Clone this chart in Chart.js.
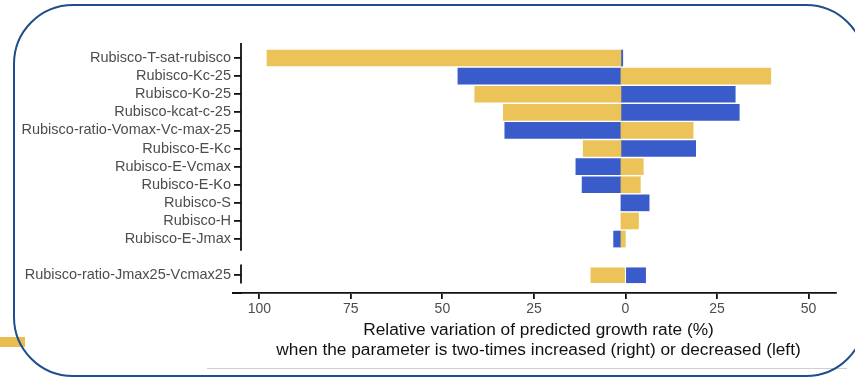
<!DOCTYPE html>
<html><head><meta charset="utf-8">
<script src="https://cdn.jsdelivr.net/npm/chart.js@4/dist/chart.umd.min.js"></script>
<style>
html,body{margin:0;padding:0;background:#fff;}
#wrap{position:relative;width:855px;height:378px;overflow:hidden;background:#fff;}
canvas{position:absolute;left:0;top:0;}
.frame{position:absolute;left:13px;top:4px;width:849px;height:369px;border:2px solid #1f4e8c;border-radius:60px;pointer-events:none;}
.strip{position:absolute;left:0;top:337px;width:25px;height:10px;background:#e9bd52;}
.rule{position:absolute;left:207px;top:368px;width:640px;height:1px;background:#cfcfcf;}
</style></head>
<body><div id="wrap"><div class="strip"></div><canvas id="c" width="855" height="378"></canvas><div class="rule"></div><div class="frame"></div></div>
<script>
// ---- data ----
const topCategories = [
  'Rubisco-T-sat-rubisco','Rubisco-Kc-25','Rubisco-Ko-25','Rubisco-kcat-c-25',
  'Rubisco-ratio-Vomax-Vc-max-25','Rubisco-E-Kc','Rubisco-E-Vcmax','Rubisco-E-Ko',
  'Rubisco-S','Rubisco-H','Rubisco-E-Jmax'
];
// signed values: negative = left (parameter decreased), positive = right (parameter increased)
const topYellow = [-96.6, 40.9, -39.9, -32.1, 19.7, -10.3, 6.1, 5.3, null, 4.8, 1.2];
const topBlue   = [0.5, -44.5, 31.2, 32.3, -31.7, 20.4, -12.3, -10.6, 7.7, null, -2.0];
const bottomCategory = 'Rubisco-ratio-Jmax25-Vcmax25';
const bottomYellow = [-9.45];
const bottomBlue = [5.5];
const xTickValues = [-100, -75, -50, -25, 0, 25, 50];
const gapRows = 1;

// ---- build ----
const bottomRow = topCategories.length + gapRows;
const rowLabels = {};
topCategories.forEach((c, i) => rowLabels[i] = c);
rowLabels[bottomRow] = bottomCategory;
const rowValues = Object.keys(rowLabels).map(Number);

const toPoints = (arr, rowOf) => arr.map((v, i) => v === null ? null : {x: v, y: rowOf(i)}).filter(p => p);

const YELLOW = '#EBC359';
const BLUE = '#3A5CCB';
const FONT = "'Liberation Sans', Arial, sans-serif";

const panelAxes = {
  id: 'panelAxes',
  afterDatasetsDraw(chart) {
    const {ctx, chartArea, scales} = chart;
    const y = scales.y;
    ctx.save();
    ctx.strokeStyle = '#111';
    ctx.lineWidth = 1.8;
    const x = Math.round(chartArea.left) ;
    ctx.beginPath();
    ctx.moveTo(x, chartArea.top);
    ctx.lineTo(x, y.getPixelForValue(topCategories.length - 1 + 0.65));
    ctx.moveTo(x, y.getPixelForValue(bottomRow - 0.6));
    ctx.lineTo(x, y.getPixelForValue(bottomRow + 0.45));
    ctx.moveTo(chartArea.left - 9, chartArea.bottom);
    ctx.lineTo(chartArea.left + 1, chartArea.bottom);
    ctx.stroke();
    ctx.restore();
  }
};

new Chart(document.getElementById('c'), {
  type: 'bar',
  data: {
    datasets: [
      {label: 'Growth rate decreased', data: toPoints(topYellow, i => i), backgroundColor: YELLOW, xAxisID: 'xTop', barThickness: 16, grouped: false},
      {label: 'Growth rate increased', data: toPoints(topBlue, i => i), backgroundColor: BLUE, xAxisID: 'xTop', barThickness: 16, grouped: false},
      {label: 'Growth rate decreased (ratio)', data: toPoints(bottomYellow, () => bottomRow), backgroundColor: YELLOW, xAxisID: 'x', barThickness: 15, grouped: false},
      {label: 'Growth rate increased (ratio)', data: toPoints(bottomBlue, () => bottomRow), backgroundColor: BLUE, xAxisID: 'x', barThickness: 15, grouped: false}
    ]
  },
  options: {
    indexAxis: 'y',
    responsive: false,
    devicePixelRatio: 1,
    animation: false,
    layout: {padding: {left: 0, top: 43, right: 19, bottom: 18}},
    plugins: {legend: {display: false}, tooltip: {enabled: false}, title: {display: false}},
    scales: {
      y: {
        type: 'linear',
        reverse: true,
        offset: false,
        min: -0.83,
        max: 12.98,
        afterBuildTicks: s => { s.ticks = rowValues.map(v => ({value: v})); },
        afterFit: s => { s.width = 241; },
        ticks: {
          autoSkip: false,
          padding: 3,
          color: '#4d4d4d',
          font: {family: FONT, size: 14.5},
          callback: v => rowLabels[v] || ''
        },
        grid: {display: true, offset: false, drawOnChartArea: false, drawTicks: true, tickLength: 7, color: '#111', lineWidth: 1.8},
        border: {display: false}
      },
      xTop: {
        type: 'linear',
        position: 'bottom',
        display: false,
        min: -103.7,
        max: 58.7
      },
      x: {
        type: 'linear',
        position: 'bottom',
        min: -105.0,
        max: 57.5,
        afterBuildTicks: s => { s.ticks = xTickValues.map(v => ({value: v})); },
        afterFit: s => { s.height = 67; },
        ticks: {
          autoSkip: false,
          maxRotation: 0,
          padding: 2,
          color: '#4d4d4d',
          font: {family: FONT, size: 14},
          callback: v => String(Math.abs(v))
        },
        grid: {display: true, drawOnChartArea: false, drawTicks: true, tickLength: 6, color: '#111', lineWidth: 1.8},
        border: {display: true, color: '#111', width: 1.8},
        title: {
          display: true,
          text: ['Relative variation of predicted growth rate (%)', 'when the parameter is two-times increased (right) or decreased (left)'],
          color: '#111',
          font: {family: FONT, size: 17.3, lineHeight: 1.15},
          padding: {top: 0, bottom: 0}
        }
      }
    }
  },
  plugins: [panelAxes]
});
</script>
</body></html>
